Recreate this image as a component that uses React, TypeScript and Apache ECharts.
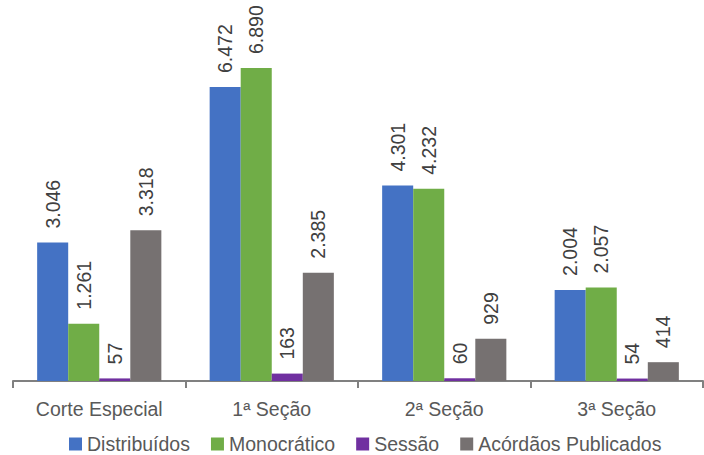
import React, { useEffect, useRef } from "react";
import * as echarts from "echarts";

const categories = ["Corte Especial", "1ª Seção", "2ª Seção", "3ª Seção"];
const seriesNames = ["Distribuídos", "Monocrático", "Sessão", "Acórdãos Publicados"];
const distribuidos = [3046, 6472, 4301, 2004];
const monocratico = [1261, 6890, 4232, 2057];
const sessao = [57, 163, 60, 54];
const acordaos = [3318, 2385, 929, 414];
const colors = ["#4472C4", "#70AD47", "#7030A0", "#767171"];

const FONT = "'Liberation Sans', Arial, sans-serif";

const fmt = (v: number) => v.toString().replace(/\B(?=(\d{3})+(?!\d))/g, ".");

export default function App() {
  const ref = useRef<HTMLDivElement>(null);
  useEffect(() => {
    if (!ref.current) return;
    const chart = echarts.init(ref.current, undefined, { renderer: "svg" });
    const values = [distribuidos, monocratico, sessao, acordaos];
    chart.setOption({
      animation: false,
      color: colors,
      textStyle: { fontFamily: FONT },
      grid: { left: 13, right: 1, top: 63, bottom: 74 },
      legend: {
        bottom: -4,
        left: 64,
        itemWidth: 13,
        itemHeight: 13,
        itemGap: 21,
        icon: "rect",
        textStyle: { fontFamily: FONT, fontSize: 19.5, color: "#595959" },
        data: seriesNames,
      },
      xAxis: {
        type: "category",
        data: categories,
        axisLine: { lineStyle: { color: "#808080", width: 2 } },
        axisTick: { show: true, length: 7, lineStyle: { color: "#808080", width: 2 } },
        axisLabel: { interval: 0, fontFamily: FONT, fontSize: 19.5, color: "#595959", margin: 18 },
      },
      yAxis: {
        type: "value",
        min: 0,
        max: 7000,
        show: false,
        splitLine: { show: false },
      },
      series: seriesNames.map((name, i) => ({
        name,
        type: "bar",
        data: values[i],
        barGap: "0%",
        barCategoryGap: "28%",
        label: {
          show: true,
          position: "top",
          rotate: 90,
          align: "left",
          verticalAlign: "middle",
          distance: 14,
          fontFamily: FONT,
          fontSize: 19.5,
          color: "#404040",
          formatter: (p: any) => fmt(p.value),
        },
      })),
    });
    return () => chart.dispose();
  }, []);
  return <div ref={ref} style={{ width: 704, height: 455, position: "absolute", left: 0, top: 0 }} />;
}
